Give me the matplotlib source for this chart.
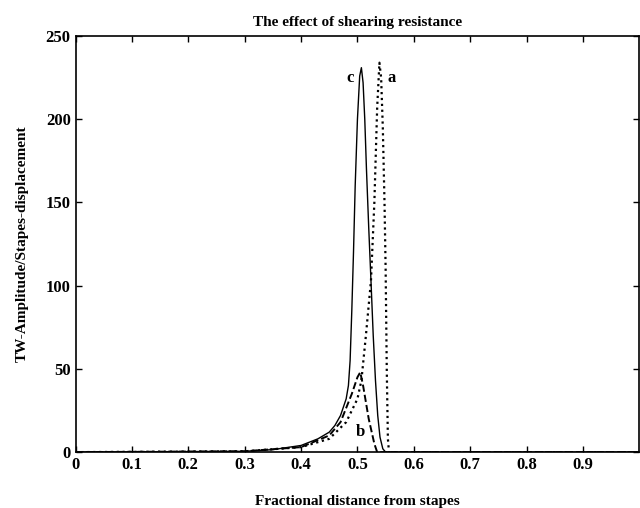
import matplotlib as mpl
mpl.use('Agg')
import matplotlib.pyplot as plt
import numpy as np

# curve a (dotted), sharp peak near 0.54
xa = [0.0, 0.30, 0.40, 0.45, 0.48, 0.50, 0.507, 0.515, 0.524, 0.530, 0.535, 0.539,
      0.542, 0.545, 0.548, 0.550, 0.552, 0.554, 0.556, 1.0]
ya = [0.0, 0.5, 3.0, 8.0, 18.0, 32.0, 43.0, 70.0, 103.0, 150.0, 207.0, 234.0,
      225.0, 195.0, 150.0, 110.0, 50.0, 8.0, 0.0, 0.0]

# curve b (dashed), small peak near 0.505
xb = [0.0, 0.30, 0.40, 0.45, 0.47, 0.49, 0.50, 0.505, 0.51, 0.52, 0.53, 0.535, 1.0]
yb = [0.0, 0.5, 3.0, 10.0, 18.0, 35.0, 45.0, 48.0, 40.0, 20.0, 5.0, 0.0, 0.0]

# curve c (solid), peak near 0.507
xc = [0.0, 0.30, 0.35, 0.40, 0.43, 0.45, 0.46, 0.47, 0.48, 0.484, 0.487, 0.490,
      0.493, 0.496, 0.500, 0.504, 0.507, 0.510, 0.513, 0.516, 0.520, 0.524,
      0.528, 0.532, 0.536, 0.540, 0.545, 0.55, 1.0]
yc = [0.0, 0.5, 1.5, 4.0, 8.0, 12.0, 16.0, 22.0, 32.0, 40.0, 55.0, 85.0,
      120.0, 160.0, 200.0, 226.0, 231.0, 222.0, 200.0, 170.0, 135.0, 103.0,
      70.0, 43.0, 22.0, 9.0, 2.0, 0.0, 0.0]

xticks = [0, 0.1, 0.2, 0.3, 0.4, 0.5, 0.6, 0.7, 0.8, 0.9]
yticks = [0, 50, 100, 150, 200, 250]

plt.rcParams['font.family'] = ['Liberation Serif', 'DejaVu Serif']

fig = plt.figure(figsize=(6.4, 5.08), dpi=100)
ax = fig.add_axes([0.118, 0.110, 0.881, 0.819])

ax.plot(xa, ya, color='black', linestyle=':', linewidth=1.6)
ax.plot(xb, yb, color='black', linestyle='--', linewidth=1.4)
ax.plot(xc, yc, color='black', linestyle='-', linewidth=1.0)

ax.text(0.493, 225, 'c', fontsize=12, fontweight='bold', ha='right', va='center')
ax.text(0.560, 225, 'a', fontsize=12, fontweight='bold', ha='center', va='center')
ax.text(0.514, 12, 'b', fontsize=12, fontweight='bold', ha='right', va='center')

ax.set_xlim(0, 1)
ax.set_ylim(0, 250)
ax.set_xticks(xticks)
ax.set_xticklabels(['0', '0.1', '0.2', '0.3', '0.4', '0.5', '0.6', '0.7', '0.8', '0.9'])
ax.set_yticks(yticks)
ax.tick_params(direction='in', length=4, top=True, right=True, labelsize=12, width=1)
for lab in ax.get_xticklabels() + ax.get_yticklabels():
    lab.set_fontweight('bold')
for sp in ax.spines.values():
    sp.set_linewidth(1.2)

ax.set_title('The effect of shearing resistance', fontsize=11, fontweight='bold', pad=7)
ax.set_xlabel('Fractional distance from stapes', fontsize=11, fontweight='bold', labelpad=16)
ax.set_ylabel('TW-Amplitude/Stapes-displacement', fontsize=11, fontweight='bold', labelpad=12)

fig.savefig('out.png', dpi=100)
